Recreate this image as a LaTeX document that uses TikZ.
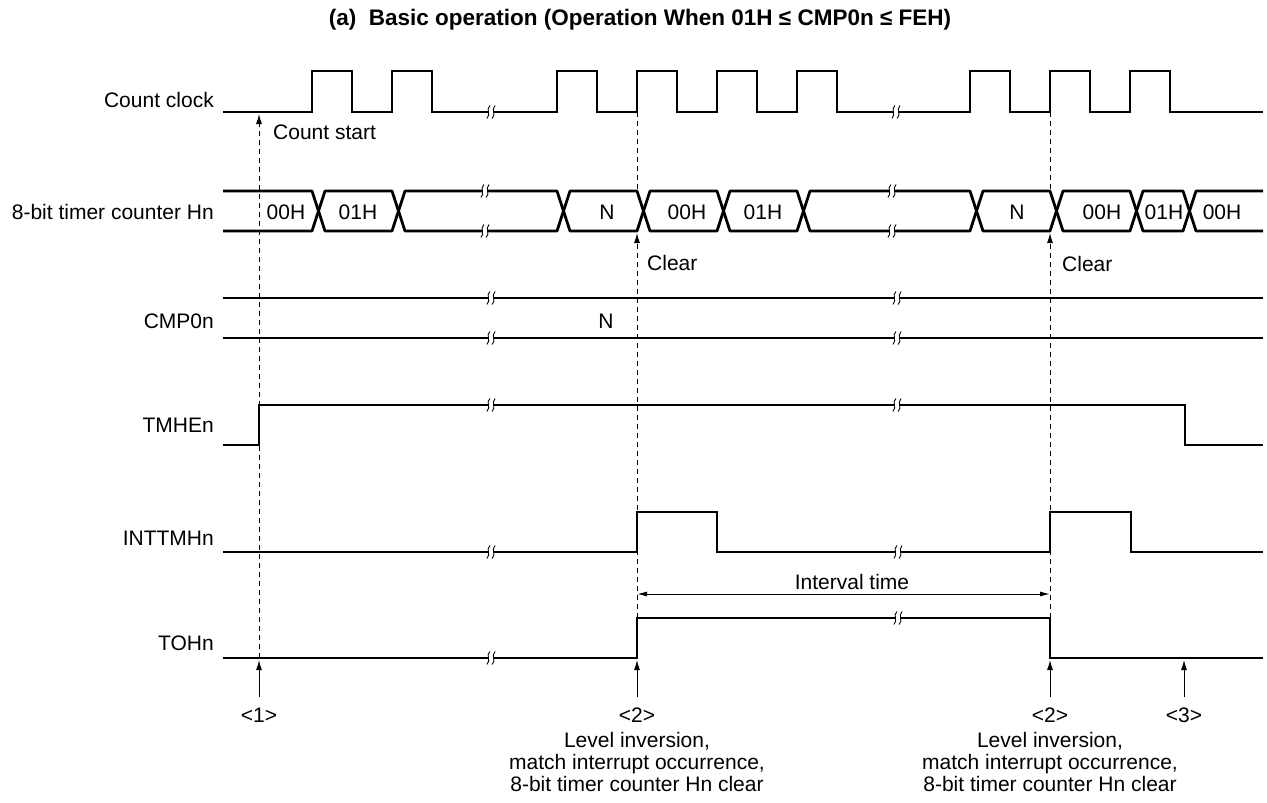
\documentclass[tikz,border=0pt]{standalone}
\usepackage{fontspec}
\setmainfont{Liberation Sans}
\usetikzlibrary{arrows.meta}
\newcommand\wbrk[2]{%
  \fill[white] ({#1-2.6},{#2-2.5}) rectangle ({#1+2.6},{#2+2.5});
  \draw[line width=0.9pt] ({#1-1.1},{#2-6.5}) .. controls ({#1-5.6},{#2-2}) and ({#1+0.4},{#2+2}) .. ({#1-4.1},{#2+6.5});
  \draw[line width=0.9pt] ({#1+4.1},{#2-6.5}) .. controls ({#1-0.4},{#2-2}) and ({#1+5.6},{#2+2}) .. ({#1+1.1},{#2+6.5});
}
\begin{document}
\begin{tikzpicture}[x=1pt,y=-1pt,
  sig/.style={line width=2.8pt,line join=miter},
  bus/.style={line width=2.8pt,line join=round},
  dsh/.style={line width=1pt,dash pattern=on 5pt off 4pt},
  uptip/.style={-{Latex[length=10pt,width=6pt]}},
  thinl/.style={line width=1pt},
  lbl/.style={font=\fontsize{21}{21}\selectfont,inner sep=0pt},
  ttl/.style={font=\fontsize{22.5}{23}\selectfont\bfseries,inner sep=0pt}]
\useasboundingbox (0,0) rectangle (1267,803);

% title
\node[ttl] (title) at (640,20) {(a)\ \ Basic operation (Operation When 01H ≤ CMP0n ≤ FEH)};

% signal labels
\node[lbl,anchor=east] (lclk) at (214,100) {Count clock};
\node[lbl,anchor=east] (lcnt) at (214,212) {8-bit timer counter Hn};
\node[lbl,anchor=east] (lcmp) at (214,321) {CMP0n};
\node[lbl,anchor=east] (ltmhe) at (214,425) {TMHEn};
\node[lbl,anchor=east] (lint) at (214,538) {INTTMHn};
\node[lbl,anchor=east] (ltoh) at (214,643) {TOHn};

% dashed guide lines and arrows (drawn first)
\coordinate (d1top) at (259,114);
\coordinate (d1bot) at (259,658);
\draw[dsh,uptip] (d1bot) -- (d1top);
\coordinate (d2top) at (637,112);
\coordinate (d2bus) at (637,191);
\coordinate (d2clr) at (637,233);
\coordinate (d2bot) at (637,618);
\draw[dsh] (d2top) -- (d2bus);
\draw[dsh,uptip] (d2bot) -- (d2clr);
\coordinate (d3top) at (1050,112);
\coordinate (d3bus) at (1050,191);
\coordinate (d3clr) at (1050,233);
\coordinate (d3bot) at (1050,618);
\draw[dsh] (d3top) -- (d3bus);
\draw[dsh,uptip] (d3bot) -- (d3clr);

% count clock
\draw[sig] (223,112) -- (312,112) -- (312,71) -- (352,71) -- (352,112) -- (392,112) -- (392,71) -- (432,71) -- (432,112)
  -- (557,112) -- (557,71) -- (597,71) -- (597,112) -- (637,112) -- (637,71) -- (677,71) -- (677,112)
  -- (717,112) -- (717,71) -- (757,71) -- (757,112) -- (797,112) -- (797,71) -- (837,71) -- (837,112)
  -- (970,112) -- (970,71) -- (1010,71) -- (1010,112) -- (1050,112) -- (1050,71) -- (1090,71) -- (1090,112)
  -- (1130,112) -- (1130,71) -- (1170,71) -- (1170,112) -- (1263,112);
\wbrk{491}{112}
\wbrk{896}{112}

% counter bus
\draw[bus] (223,191) -- (312,191) -- (318.5,211) -- (312,231) -- (223,231);
\foreach \a/\b in {312/392,392/557,557/637,637/717,717/797,797/970,970/1050,1050/1130,1130/1183}{
  \draw[bus] (\a+6.5,211) -- (\a+13,191) -- (\b,191) -- (\b+6.5,211) -- (\b,231) -- (\a+13,231) -- cycle;
}
\draw[bus] (1263,191) -- (1196,191) -- (1189.5,211) -- (1196,231) -- (1263,231);
\wbrk{485}{191}\wbrk{485}{231}
\wbrk{892}{191}\wbrk{892}{231}
\foreach \x/\t in {286/00H,358/01H,607/N,687/00H,763/01H,1017/N,1102/00H,1164/01H,1222/00H}{
  \node[lbl] at (\x,212) {\t};
}

% CMP0n
\draw[sig] (223,298) -- (1263,298);
\draw[sig] (223,338) -- (1263,338);
\wbrk{491}{298}\wbrk{491}{338}
\wbrk{897}{298}\wbrk{897}{338}
\node[lbl] (cmpn) at (606,321) {N};

% TMHEn
\draw[sig] (223,445) -- (259,445) -- (259,405) -- (1185,405) -- (1185,445) -- (1263,445);
\wbrk{491}{405}\wbrk{897}{405}

% INTTMHn
\draw[sig] (223,552) -- (637,552) -- (637,512) -- (717,512) -- (717,552) -- (1050,552) -- (1050,512) -- (1131,512) -- (1131,552) -- (1263,552);
\wbrk{491}{552}\wbrk{898}{552}

% interval time
\coordinate (ia) at (637,594);
\coordinate (ib) at (1050,594);
\draw[thinl,{Latex[length=10pt,width=5pt]}-{Latex[length=10pt,width=5pt]}] (ia) -- (ib);
\node[lbl] (itime) at (852,582) {Interval time};

% TOHn
\draw[sig] (223,658) -- (637,658) -- (637,618) -- (1050,618) -- (1050,658) -- (1263,658);
\wbrk{491}{658}\wbrk{898}{618}

% annotations
\node[lbl,anchor=west] (cstart) at (273,132) {Count start};
\node[lbl,anchor=west] (clr1) at (647,263) {Clear};
\node[lbl,anchor=west] (clr2) at (1062,264) {Clear};

% bottom markers
\foreach \nm/\x/\t in {m1/259/<1>,m2/637/<2>,m3/1050/<2>,m4/1184/<3>}{
  \coordinate (\nm s) at (\x,697);
  \coordinate (\nm e) at (\x,660);
  \draw[thinl,uptip] (\nm s) -- (\nm e);
  \node[lbl] (\nm) at (\x,715) {\t};
}
\node[lbl,align=center,font=\fontsize{21}{22}\selectfont] (exp1) at (637,762) {Level inversion,\\match interrupt occurrence,\\8-bit timer counter Hn clear};
\node[lbl,align=center,font=\fontsize{21}{22}\selectfont] (exp2) at (1050,762) {Level inversion,\\match interrupt occurrence,\\8-bit timer counter Hn clear};
\end{tikzpicture}
\end{document}
